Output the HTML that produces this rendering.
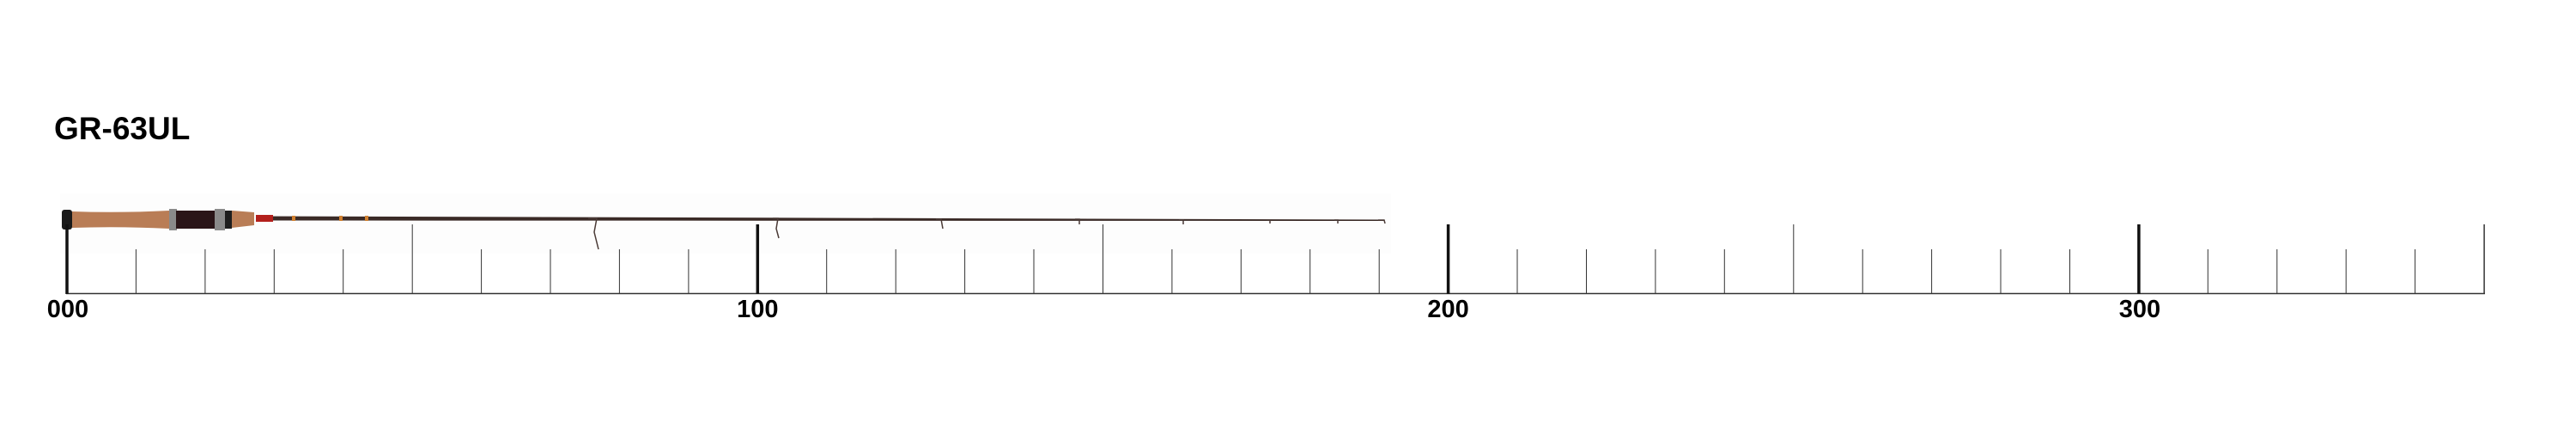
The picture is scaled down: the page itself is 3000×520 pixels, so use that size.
<!DOCTYPE html>
<html><head><meta charset="utf-8"><style>
html,body{margin:0;padding:0;background:#fff;}
svg{display:block}
</style></head><body>
<svg width="3000" height="520" viewBox="0 0 3000 520" xmlns="http://www.w3.org/2000/svg">
<rect x="0" y="0" width="3000" height="520" fill="#fff"/>
<rect x="70" y="225" width="1550" height="70" fill="#fdfdfd"/>
<text x="63" y="162" font-family="Liberation Sans, sans-serif" font-weight="bold" font-size="37" fill="#000">GR-63UL</text>
<line x1="77" y1="341.5" x2="2894" y2="341.5" stroke="#333" stroke-width="1.6"/>
<g font-family="Liberation Sans, sans-serif" font-weight="bold" font-size="29" fill="#000" text-anchor="middle">
<text x="79" y="369">000</text>
<text x="882.3" y="369">100</text>
<text x="1686.6" y="369">200</text>
<text x="2492" y="369">300</text>
</g>
<polygon points="298,251.5 1612,255.5 1612,257 298,256.5" fill="#3a2a26"/>
<rect x="298" y="250" width="20" height="8" fill="#b3201c"/>
<rect x="340" y="251" width="4" height="6" fill="#d08030"/>
<rect x="395" y="251" width="4" height="6" fill="#d08030"/>
<rect x="425" y="251" width="4" height="6" fill="#d08030"/>
<path d="M84,246 Q140,248 197,245 L197,266 Q140,263 84,265 Z" fill="#b97d56"/>
<rect x="72" y="244" width="12" height="23" rx="3" fill="#1a1a1a"/>
<rect x="197" y="243" width="9" height="25" fill="#8a8a8a"/>
<rect x="205" y="245" width="46" height="21" fill="#2a1518"/>
<rect x="250" y="243" width="12" height="25" fill="#8a8a8a"/>
<rect x="262" y="245" width="8" height="21" fill="#1e1e1e"/>
<path d="M270,245 L296,247 L296,262 L270,265 Z" fill="#b97d56"/>
<g stroke="#4a3a36" stroke-width="1.5" fill="none">
<path d="M685,254 L695,254 L692,270 L697,290"/>
<path d="M900,254 L906,254 L904,266 L907,277"/>
<path d="M1090,255 L1096,255 L1098,266"/>
<path d="M1252,255 L1257,255 L1257,261"/>
<path d="M1373,256 L1378,256 L1378,261"/>
<path d="M1475,256 L1479,256 L1479,260"/>
<path d="M1554,256 L1558,256 L1558,260"/>
<path d="M1605,256 L1612,256 L1613,260"/>
</g>
<g stroke="#111">
<line x1="78" y1="261" x2="78" y2="342" stroke-width="3.5"/>
<line x1="882.3" y1="261" x2="882.3" y2="342" stroke-width="3.5"/>
<line x1="1686.6" y1="261" x2="1686.6" y2="342" stroke-width="3.5"/>
<line x1="2490.9" y1="261" x2="2490.9" y2="342" stroke-width="3.5"/>
</g>
<g stroke="#333" stroke-width="1">
<line x1="480.2" y1="261" x2="480.2" y2="342"/>
<line x1="1284.5" y1="261" x2="1284.5" y2="342"/>
<line x1="2088.8" y1="261" x2="2088.8" y2="342"/>
<line x1="2893.1" y1="261" x2="2893.1" y2="342" stroke-width="1.5"/>
<line x1="158.4" y1="290" x2="158.4" y2="342"/>
<line x1="238.9" y1="290" x2="238.9" y2="342"/>
<line x1="319.3" y1="290" x2="319.3" y2="342"/>
<line x1="399.7" y1="290" x2="399.7" y2="342"/>
<line x1="560.6" y1="290" x2="560.6" y2="342"/>
<line x1="641" y1="290" x2="641" y2="342"/>
<line x1="721.4" y1="290" x2="721.4" y2="342"/>
<line x1="801.9" y1="290" x2="801.9" y2="342"/>
<line x1="962.7" y1="290" x2="962.7" y2="342"/>
<line x1="1043.2" y1="290" x2="1043.2" y2="342"/>
<line x1="1123.6" y1="290" x2="1123.6" y2="342"/>
<line x1="1204" y1="290" x2="1204" y2="342"/>
<line x1="1364.9" y1="290" x2="1364.9" y2="342"/>
<line x1="1445.3" y1="290" x2="1445.3" y2="342"/>
<line x1="1525.7" y1="290" x2="1525.7" y2="342"/>
<line x1="1606.2" y1="290" x2="1606.2" y2="342"/>
<line x1="1767" y1="290" x2="1767" y2="342"/>
<line x1="1847.5" y1="290" x2="1847.5" y2="342"/>
<line x1="1927.9" y1="290" x2="1927.9" y2="342"/>
<line x1="2008.3" y1="290" x2="2008.3" y2="342"/>
<line x1="2169.2" y1="290" x2="2169.2" y2="342"/>
<line x1="2249.6" y1="290" x2="2249.6" y2="342"/>
<line x1="2330" y1="290" x2="2330" y2="342"/>
<line x1="2410.5" y1="290" x2="2410.5" y2="342"/>
<line x1="2571.3" y1="290" x2="2571.3" y2="342"/>
<line x1="2651.8" y1="290" x2="2651.8" y2="342"/>
<line x1="2732.2" y1="290" x2="2732.2" y2="342"/>
<line x1="2812.6" y1="290" x2="2812.6" y2="342"/>
</g>
</svg>
</body></html>
